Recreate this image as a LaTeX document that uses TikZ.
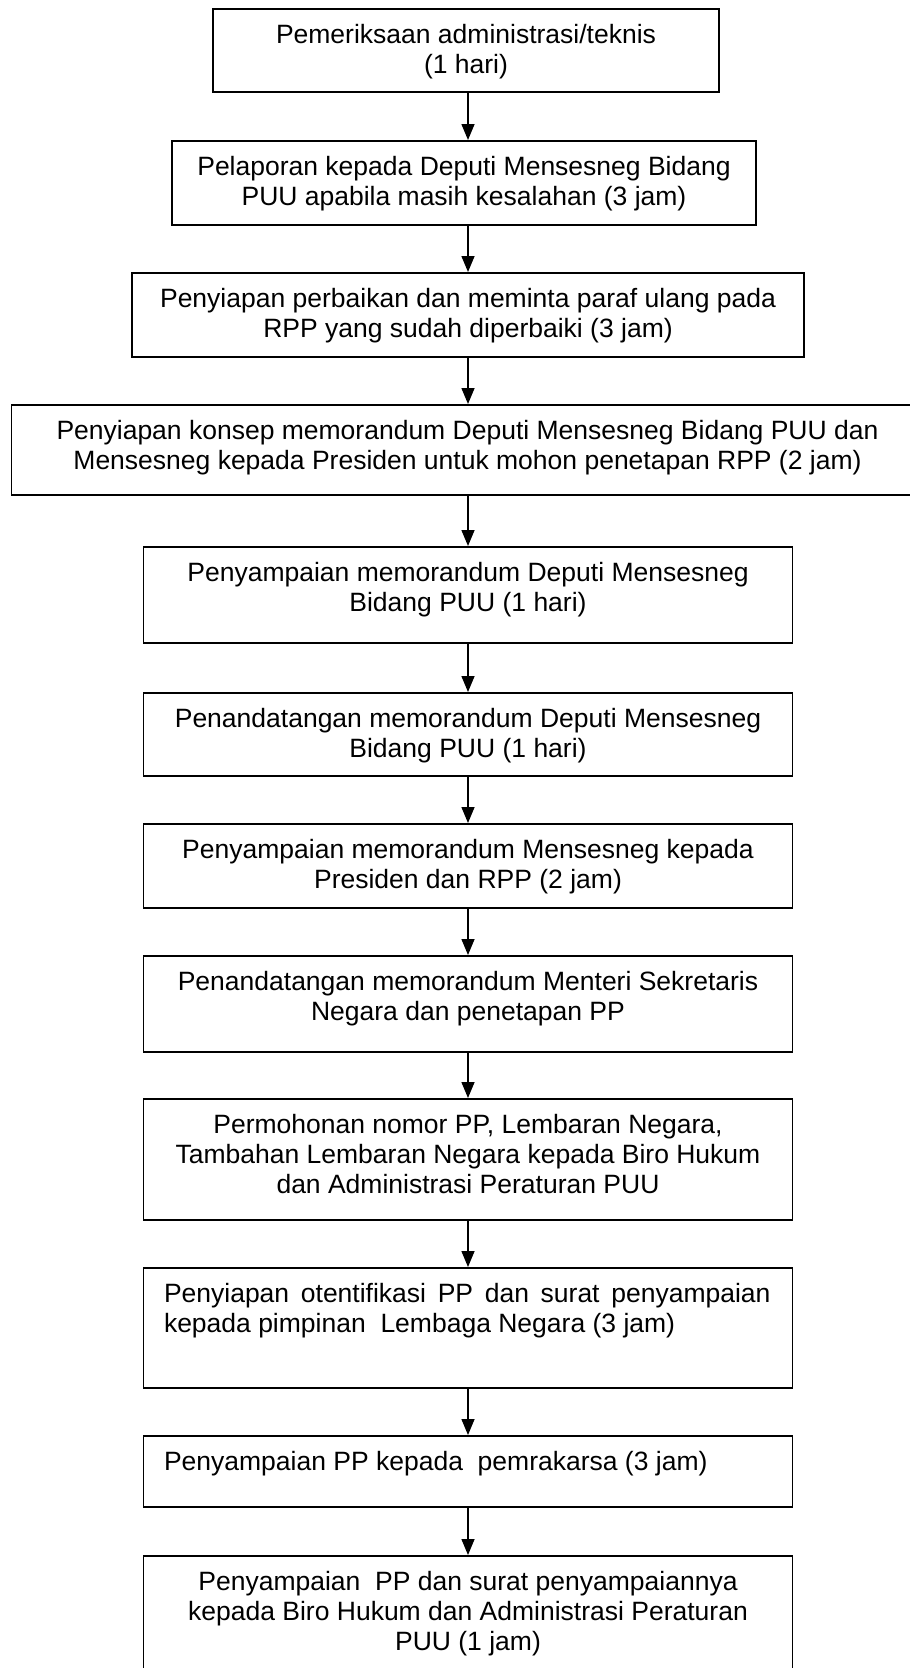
\documentclass[tikz,border=0pt]{standalone}
\usepackage{fontspec}
\setmainfont{Liberation Sans}
\usetikzlibrary{arrows.meta}
\newcommand{\stepC}[3]{\parbox[c][#2][t]{#1}{\centering\rule{0pt}{34.5pt}#3}}
\newcommand{\stepL}[3]{\parbox[c][#2][t]{#1}{\leftskip=20.5pt\rightskip=22pt\rule{0pt}{34.5pt}#3}}
\tikzset{
  stepbox/.style={draw=black, line width=1.8pt, rectangle, inner sep=0pt, outer sep=0pt},
  flow/.style={draw=black, line width=1.5pt, -{Triangle[length=16pt,width=13pt]}, shorten >=1pt}
}
\begin{document}
\begin{tikzpicture}[x={(1pt,0pt)}, y={(0pt,-1pt)}, font=\fontsize{26.5pt}{30pt}\selectfont]
\useasboundingbox (0,0) rectangle (910,1668);
\coordinate (ax) at (468,0);
\node[stepbox] (b1) at (466,50.5) {\stepC{506pt}{83pt}{Pemeriksaan administrasi/teknis\\(1 hari)}};
\node[stepbox] (b2) at (464,183) {\stepC{584pt}{84pt}{Pelaporan kepada Deputi Mensesneg Bidang\\PUU apabila masih kesalahan (3 jam)}};
\node[stepbox] (b3) at (468,315) {\stepC{672pt}{84pt}{Penyiapan perbaikan dan meminta paraf ulang pada\\RPP yang sudah diperbaiki (3 jam)}};
\node[stepbox] (b4) at (467.5,450) {\stepC{912pt}{90pt}{Penyiapan konsep memorandum Deputi Mensesneg Bidang PUU dan\\Mensesneg kepada Presiden untuk mohon penetapan RPP (2 jam)}};
\node[stepbox] (b5) at (468,595) {\stepC{649pt}{96pt}{Penyampaian memorandum Deputi Mensesneg\\Bidang PUU (1 hari)}};
\node[stepbox] (b6) at (468,734.5) {\stepC{649pt}{83pt}{Penandatangan memorandum Deputi Mensesneg\\Bidang PUU (1 hari)}};
\node[stepbox] (b7) at (468,866) {\stepC{649pt}{84pt}{Penyampaian memorandum Mensesneg kepada\\Presiden dan RPP (2 jam)}};
\node[stepbox] (b8) at (468,1004) {\stepC{649pt}{96pt}{Penandatangan memorandum Menteri Sekretaris\\Negara dan penetapan PP}};
\node[stepbox] (b9) at (468,1159.5) {\stepC{649pt}{121pt}{Permohonan nomor PP, Lembaran Negara,\\Tambahan Lembaran Negara kepada Biro Hukum\\dan Administrasi Peraturan PUU}};
\node[stepbox] (b10) at (468,1328) {\stepL{649pt}{120pt}{Penyiapan otentifikasi PP dan surat penyampaian\linebreak kepada pimpinan\ \ Lembaga Negara (3 jam)}};
\node[stepbox] (b11) at (468,1471.5) {\stepL{649pt}{71pt}{Penyampaian PP kepada\ \ pemrakarsa (3 jam)}};
\node[stepbox] (b12) at (468,1618) {\stepC{649pt}{124pt}{Penyampaian\ \ PP dan surat penyampaiannya\\kepada Biro Hukum dan Administrasi Peraturan\\PUU (1 jam)}};
\foreach \a/\b in {b1/b2,b2/b3,b3/b4,b4/b5,b5/b6,b6/b7,b7/b8,b8/b9,b9/b10,b10/b11,b11/b12}
  \draw[flow] (\a.south -| ax) -- (\b.north -| ax);
\end{tikzpicture}
\end{document}
